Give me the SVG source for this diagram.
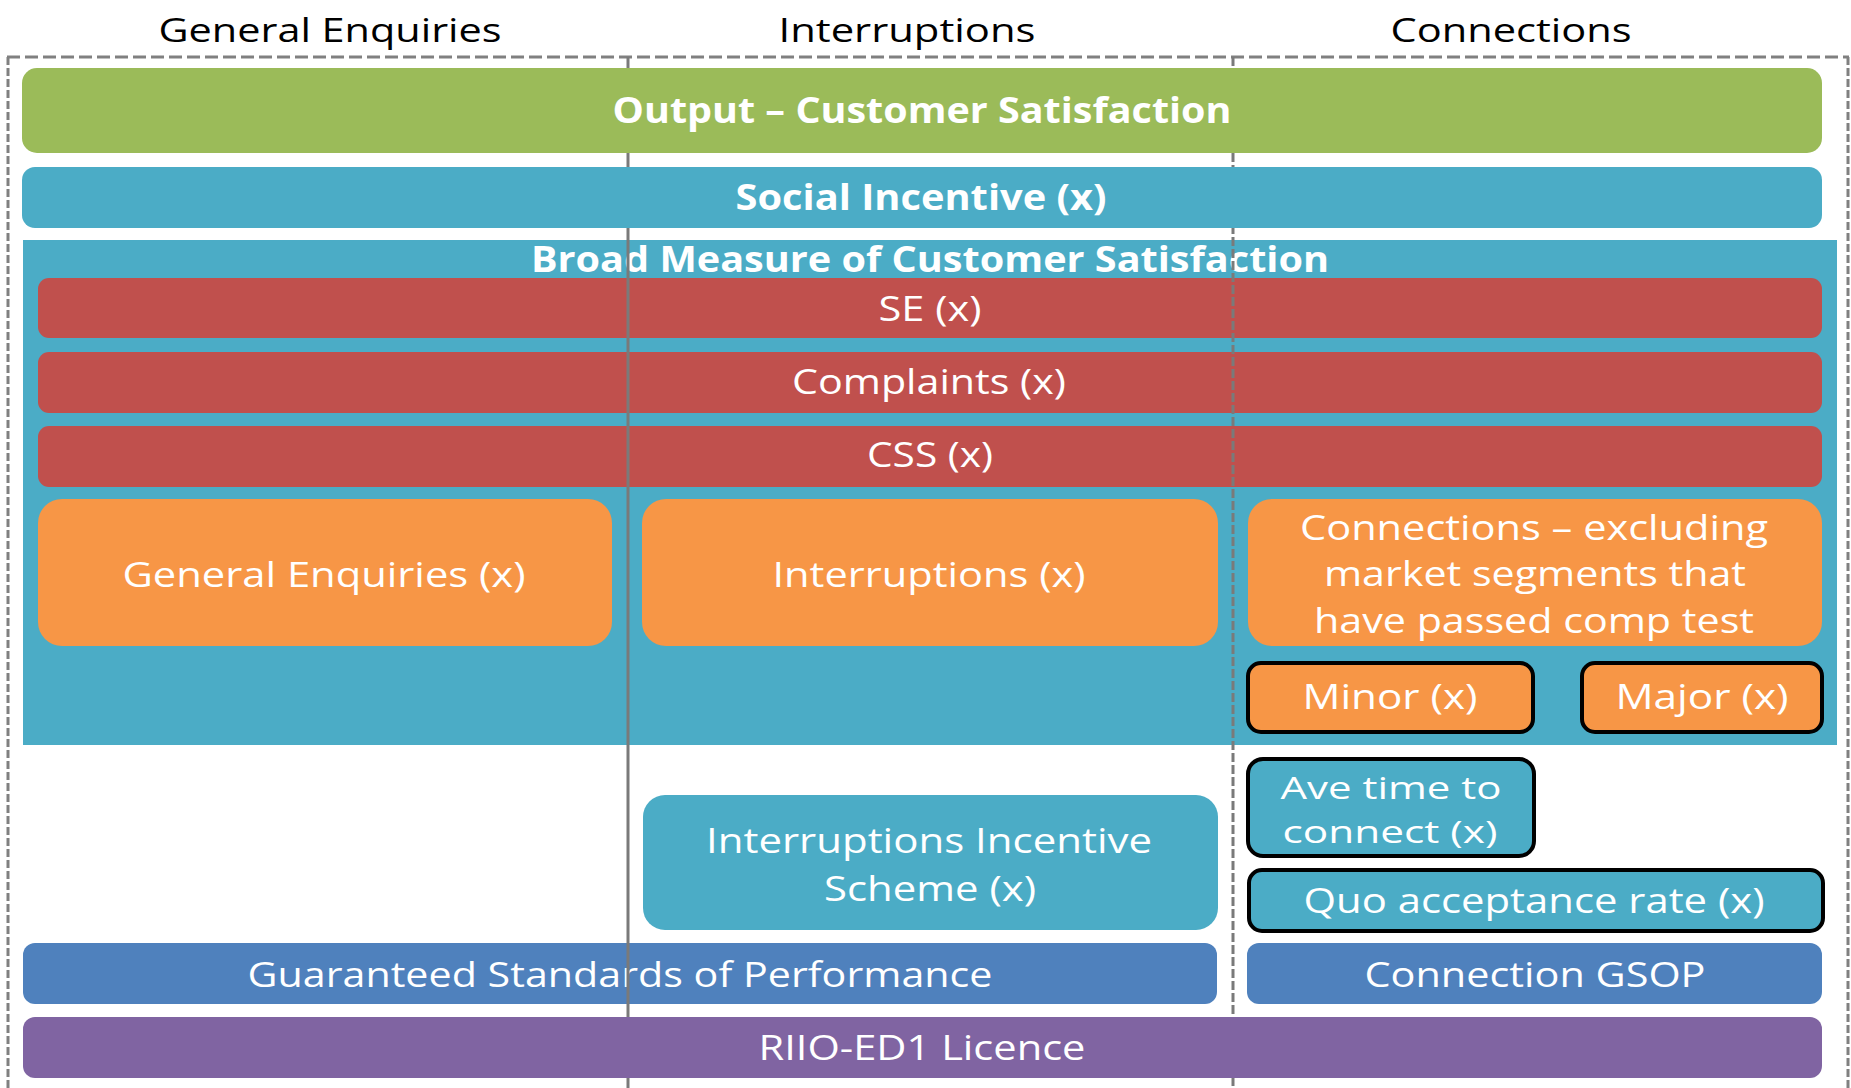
<svg xmlns="http://www.w3.org/2000/svg" width="1851" height="1088" viewBox="0 0 1851 1088">
  <style>
    text { font-family: "Open Sans", "Noto Sans", sans-serif; text-anchor: middle; }
    .hdr { font-size: 32px; fill: #000; }
    .ttl { font-size: 35px; font-weight: bold; fill: #fff; }
    .lbl { font-size: 34px; fill: #fff; }
    .lbl-sm { font-size: 31px; fill: #fff; }
    .green { fill: #9BBB59; }
    .teal { fill: #4BACC6; }
    .red { fill: #C0504D; }
    .orange { fill: #F79646; }
    .blue { fill: #4F81BD; }
    .purple { fill: #8064A2; }
    .framed { stroke: #000; stroke-width: 4; }
    .frame { stroke: #808080; stroke-width: 3; fill: none; }
    .divider { stroke: #7A7A7A; stroke-width: 3; fill: none; }
  </style>

  <rect x="0" y="0" width="1851" height="1088" fill="#fff"/>

  <!-- column headings -->
  <g id="headings">
    <text class="hdr" x="330" y="42" textLength="343" lengthAdjust="spacingAndGlyphs">General Enquiries</text>
    <text class="hdr" x="907" y="42" textLength="257" lengthAdjust="spacingAndGlyphs">Interruptions</text>
    <text class="hdr" x="1511" y="42" textLength="241" lengthAdjust="spacingAndGlyphs">Connections</text>
  </g>

  <!-- dashed outer frame (open at the bottom) -->
  <g id="frame">
    <line class="frame" x1="7" y1="57" x2="1849" y2="57" stroke-dasharray="13 5"/>
    <line class="frame" x1="8" y1="57" x2="8" y2="1088" stroke-dasharray="8 3"/>
    <line class="frame" x1="1848" y1="57" x2="1848" y2="1088" stroke-dasharray="8 3" stroke-width="2"/>
  </g>

  <!-- broad measure panel and its contents -->
  <g id="broad-measure">
    <rect class="teal" x="23" y="240" width="1814" height="505"/>
    <text class="ttl" x="930" y="272" textLength="798" lengthAdjust="spacingAndGlyphs">Broad Measure of Customer Satisfaction</text>
  </g>

  <g id="se">
    <rect class="red" x="38" y="278" width="1784" height="60" rx="11"/>
    <text class="lbl" x="930" y="321" textLength="103" lengthAdjust="spacingAndGlyphs">SE (x)</text>
  </g>
  <g id="complaints">
    <rect class="red" x="38" y="352" width="1784" height="61" rx="11"/>
    <text class="lbl" x="929" y="394" textLength="274" lengthAdjust="spacingAndGlyphs">Complaints (x)</text>
  </g>
  <g id="css">
    <rect class="red" x="38" y="426" width="1784" height="61" rx="11"/>
    <text class="lbl" x="930" y="467" textLength="126" lengthAdjust="spacingAndGlyphs">CSS (x)</text>
  </g>

  <g id="general-enquiries">
    <rect class="orange" x="38" y="499" width="574" height="147" rx="24"/>
    <text class="lbl" x="324" y="587" textLength="403" lengthAdjust="spacingAndGlyphs">General Enquiries (x)</text>
  </g>
  <g id="interruptions">
    <rect class="orange" x="642" y="499" width="576" height="147" rx="24"/>
    <text class="lbl" x="929" y="587" textLength="313" lengthAdjust="spacingAndGlyphs">Interruptions (x)</text>
  </g>
  <g id="connections">
    <rect class="orange" x="1248" y="499" width="574" height="147" rx="24"/>
    <text class="lbl" x="1534" y="540" textLength="468" lengthAdjust="spacingAndGlyphs">Connections – excluding</text>
    <text class="lbl" x="1535" y="586" textLength="422" lengthAdjust="spacingAndGlyphs">market segments that</text>
    <text class="lbl" x="1534" y="633" textLength="440" lengthAdjust="spacingAndGlyphs">have passed comp test</text>
  </g>
  <g id="minor">
    <rect class="orange framed" x="1248" y="663" width="285" height="69" rx="13"/>
    <text class="lbl" x="1390" y="709" textLength="175" lengthAdjust="spacingAndGlyphs">Minor (x)</text>
  </g>
  <g id="major">
    <rect class="orange framed" x="1582" y="663" width="240" height="69" rx="13"/>
    <text class="lbl" x="1702" y="709" textLength="173" lengthAdjust="spacingAndGlyphs">Major (x)</text>
  </g>

  <!-- incentive schemes -->
  <g id="ave-time">
    <rect class="teal framed" x="1248" y="759" width="286" height="97" rx="15"/>
    <text class="lbl-sm" x="1391" y="799" textLength="221" lengthAdjust="spacingAndGlyphs">Ave time to</text>
    <text class="lbl-sm" x="1390" y="843" textLength="215" lengthAdjust="spacingAndGlyphs">connect (x)</text>
  </g>
  <g id="quo-acceptance">
    <rect class="teal framed" x="1249" y="870" width="574" height="61" rx="13"/>
    <text class="lbl" x="1534" y="913" textLength="461" lengthAdjust="spacingAndGlyphs">Quo acceptance rate (x)</text>
  </g>
  <g id="interruptions-incentive">
    <rect class="teal" x="643" y="795" width="575" height="135" rx="22"/>
    <text class="lbl" x="929" y="853" textLength="446" lengthAdjust="spacingAndGlyphs">Interruptions Incentive</text>
    <text class="lbl" x="930" y="901" textLength="212" lengthAdjust="spacingAndGlyphs">Scheme (x)</text>
  </g>

  <!-- guaranteed standards -->
  <g id="gsop">
    <rect class="blue" x="23" y="943" width="1194" height="61" rx="12"/>
    <text class="lbl" x="620" y="987" textLength="745" lengthAdjust="spacingAndGlyphs">Guaranteed Standards of Performance</text>
  </g>
  <g id="connection-gsop">
    <rect class="blue" x="1247" y="943" width="575" height="61" rx="12"/>
    <text class="lbl" x="1535" y="987" textLength="341" lengthAdjust="spacingAndGlyphs">Connection GSOP</text>
  </g>

  <!-- column dividers -->
  <g id="column-dividers">
    <line class="divider" x1="628" y1="57" x2="628" y2="1088"/>
    <line class="divider" x1="1233" y1="57" x2="1233" y2="1088" stroke-dasharray="9 3"/>
  </g>

  <!-- full-width bands drawn above the dividers -->
  <g id="output">
    <rect class="green" x="22" y="68" width="1800" height="85" rx="15"/>
    <text class="ttl" x="922" y="123" textLength="619" lengthAdjust="spacingAndGlyphs">Output – Customer Satisfaction</text>
  </g>
  <g id="social-incentive">
    <rect class="teal" x="22" y="167" width="1800" height="61" rx="13"/>
    <text class="ttl" x="921" y="210" textLength="371" lengthAdjust="spacingAndGlyphs">Social Incentive (x)</text>
  </g>
  <g id="licence">
    <rect class="purple" x="23" y="1017" width="1799" height="61" rx="12"/>
    <text class="lbl" x="922" y="1060" textLength="327" lengthAdjust="spacingAndGlyphs">RIIO-ED1 Licence</text>
  </g>
</svg>
